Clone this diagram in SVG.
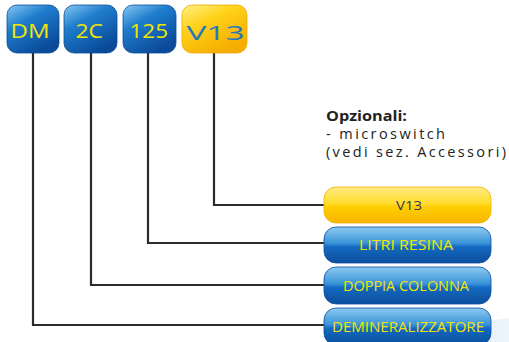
<svg xmlns="http://www.w3.org/2000/svg" width="509" height="342" viewBox="0 0 509 342">
<style>
.conn{fill:none;stroke:#2b2b2b;stroke-width:2.2}
.tb{font-family:"Open Sans","DejaVu Sans",sans-serif;font-size:19.5px}
.bl{font-family:"Open Sans","DejaVu Sans",sans-serif;font-size:14px;text-anchor:middle;fill:#f2e600}
.note{font-family:"Open Sans","DejaVu Sans",sans-serif;font-size:14.5px;fill:#222}
</style>
<defs>
<linearGradient id="blue" x1="0" y1="0" x2="0.6" y2="1">
<stop offset="0" stop-color="#86c9f2"/>
<stop offset="0.4" stop-color="#1f7dcd"/>
<stop offset="1" stop-color="#0a4a98"/>
</linearGradient>
<linearGradient id="yellow" x1="0" y1="0" x2="0.6" y2="1">
<stop offset="0" stop-color="#fff08a"/>
<stop offset="0.4" stop-color="#ffd21a"/>
<stop offset="1" stop-color="#f6ac00"/>
</linearGradient>
<linearGradient id="bblue" x1="0" y1="0" x2="0" y2="1">
<stop offset="0" stop-color="#8ccbf2"/>
<stop offset="0.45" stop-color="#3a93d8"/>
<stop offset="0.55" stop-color="#1469c0"/>
<stop offset="1" stop-color="#0b4f9e"/>
</linearGradient>
<linearGradient id="byellow" x1="0" y1="0" x2="0" y2="1">
<stop offset="0" stop-color="#ffeb80"/>
<stop offset="0.45" stop-color="#ffdc30"/>
<stop offset="0.55" stop-color="#ffcf00"/>
<stop offset="1" stop-color="#f9b400"/>
</linearGradient>
<linearGradient id="swoosh" x1="0" y1="0" x2="1" y2="0">
<stop offset="0" stop-color="#eef5fb" stop-opacity="0"/>
<stop offset="0.5" stop-color="#e3eef8"/>
<stop offset="1" stop-color="#eef5fb"/>
</linearGradient>
</defs>
<rect width="509" height="342" fill="#ffffff"/>
<path d="M430 342 Q470 322 509 318 L509 342 Z" fill="url(#swoosh)"/>
<g id="connectors">
<polyline class="conn" points="33,53 33,325 324,325"/>
<polyline class="conn" points="91,53 91,285 324,285"/>
<polyline class="conn" points="148,53 148,243 324,243"/>
<polyline class="conn" points="214,53 214,205 324,205"/>
</g>
<g id="top-dm">
<rect x="7" y="5" width="52" height="48" rx="10" fill="url(#blue)" stroke="#0b4d9c" stroke-width="0.8"/>
<text class="tb" x="10.5" y="37.8" fill="#f2e600" textLength="39" lengthAdjust="spacingAndGlyphs">DM</text>
</g>
<g id="top-2c">
<rect x="64" y="5" width="53" height="48" rx="10" fill="url(#blue)" stroke="#0b4d9c" stroke-width="0.8"/>
<text class="tb" x="75.5" y="37.8" fill="#f2e600" textLength="27.5" lengthAdjust="spacingAndGlyphs">2C</text>
</g>
<g id="top-125">
<rect x="123" y="5" width="53" height="48" rx="10" fill="url(#blue)" stroke="#0b4d9c" stroke-width="0.8"/>
<text class="tb" x="129.5" y="37.8" fill="#f2e600" textLength="38.5" lengthAdjust="spacingAndGlyphs">125</text>
</g>
<g id="top-v13">
<rect x="182" y="5" width="65" height="48" rx="10" fill="url(#yellow)" stroke="#f0a800" stroke-width="0.8"/>
<text class="tb" x="186.5" y="40" fill="#1e78c2" font-size="22.5" textLength="58" lengthAdjust="spacingAndGlyphs">V13</text>
</g>
<g id="note">
<text class="note" x="326" y="121" font-weight="bold" textLength="81" lengthAdjust="spacingAndGlyphs">Opzionali:</text>
<text class="note" x="326" y="139" textLength="119" lengthAdjust="spacing">- microswitch</text>
<text class="note" x="326" y="157" textLength="180" lengthAdjust="spacing">(vedi sez. Accessori)</text>
</g>
<g id="box-v13">
<rect x="324" y="187" width="167" height="36" rx="12" fill="url(#byellow)" stroke="#f0b000" stroke-width="0.8"/>
<text x="409" y="210" font-family="Open Sans, DejaVu Sans, sans-serif" font-size="12.5" text-anchor="middle" fill="#34345a" textLength="26" lengthAdjust="spacingAndGlyphs">V13</text>
</g>
<g id="box-litri">
<rect x="324" y="227" width="167" height="36" rx="12" fill="url(#bblue)" stroke="#0b4d9c" stroke-width="0.8"/>
<text class="bl" x="406" y="250" textLength="94" lengthAdjust="spacingAndGlyphs">LITRI RESINA</text>
</g>
<g id="box-doppia">
<rect x="324" y="267" width="167" height="37" rx="12" fill="url(#bblue)" stroke="#0b4d9c" stroke-width="0.8"/>
<text class="bl" x="406" y="291" textLength="126" lengthAdjust="spacingAndGlyphs">DOPPIA COLONNA</text>
</g>
<g id="box-demin">
<rect x="324" y="308" width="167" height="37" rx="12" fill="url(#bblue)" stroke="#0b4d9c" stroke-width="0.8"/>
<text class="bl" x="408" y="332" textLength="152" lengthAdjust="spacingAndGlyphs">DEMINERALIZZATORE</text>
</g>
</svg>
